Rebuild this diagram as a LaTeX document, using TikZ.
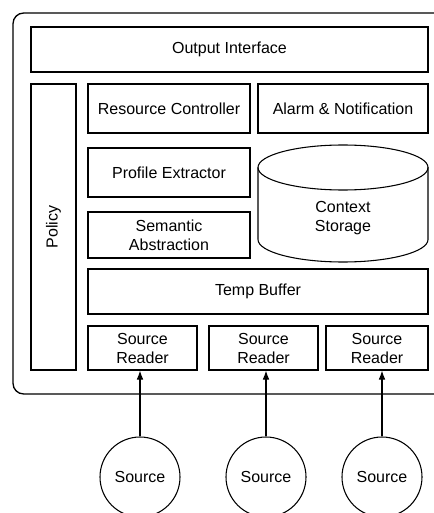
\documentclass[tikz,border=0pt]{standalone}
\usepackage{fontspec}
\setmainfont{Liberation Sans}
\usetikzlibrary{arrows.meta}

\begin{document}
\begin{tikzpicture}[x=0.75pt, y=-0.75pt, font=\fontsize{12}{14.25}\selectfont,
    block/.style={draw, line width=0.8pt, align=center, inner sep=0pt},
    src/.style={draw, circle, line width=0.8pt, minimum size=60pt, inner sep=0pt},
    feed/.style={-{Latex[length=6.75pt,width=5pt]}, line width=0.8pt},
    drumcap/.style={x radius=63.75pt, y radius=16.875pt}]
    \useasboundingbox (0,0) rectangle (434,513);

    % Frame
    \draw[line width=1pt, rounded corners=8pt] (445,13) -- (13,13) -- (13,394) -- (445,394);

    % Context storage drum
    \draw[line width=0.8pt] (343,167.5) ellipse [drumcap];
    \draw[line width=0.8pt] (258,167.5) -- (258,239.5) arc[start angle=180, end angle=360, drumcap] -- (428,167.5);

    % Nodes
    \node[block, minimum width=297.75pt, minimum height=33.75pt] (output) at (229.5,49.5) {Output Interface};
    \node[block, minimum width=214.5pt, minimum height=33.75pt, rotate=90] (policy) at (53.5,227) {Policy};
    \node[block, minimum width=121.5pt, minimum height=36.75pt] (resource) at (169,108.5) {Resource Controller};
    \node[block, minimum width=127.5pt, minimum height=36.75pt] (alarm) at (343,108.5) {Alarm \& Notification};
    \node[block, minimum width=121.5pt, minimum height=36.75pt] (profile) at (169,172.5) {Profile Extractor};
    \node[block, minimum width=121.5pt, minimum height=34.5pt] (semantic) at (169,235) {Semantic\\Abstraction};
    \node[align=center, inner sep=0pt] (storage) at (343,218) {Context\\Storage};
    \node[block, minimum width=255pt, minimum height=33.75pt] (temp) at (258,291.5) {Temp Buffer};
    \node[block, minimum width=81.75pt, minimum height=33pt] (reader1) at (142.5,348) {Source\\Reader};
    \node[block, minimum width=81.75pt, minimum height=33pt] (reader2) at (263.5,348) {Source\\Reader};
    \node[block, minimum width=76.5pt, minimum height=33pt] (reader3) at (377,348) {Source\\Reader};
    \node[src] (source1) at (140,477) {Source};
    \node[src] (source2) at (266,477) {Source};
    \node[src] (source3) at (382,477) {Source};

    % Arrows
    \draw[feed] (source1) -- (source1 |- reader1.south);
    \draw[feed] (source2) -- (source2 |- reader2.south);
    \draw[feed] (source3) -- (source3 |- reader3.south);
\end{tikzpicture}
\end{document}
